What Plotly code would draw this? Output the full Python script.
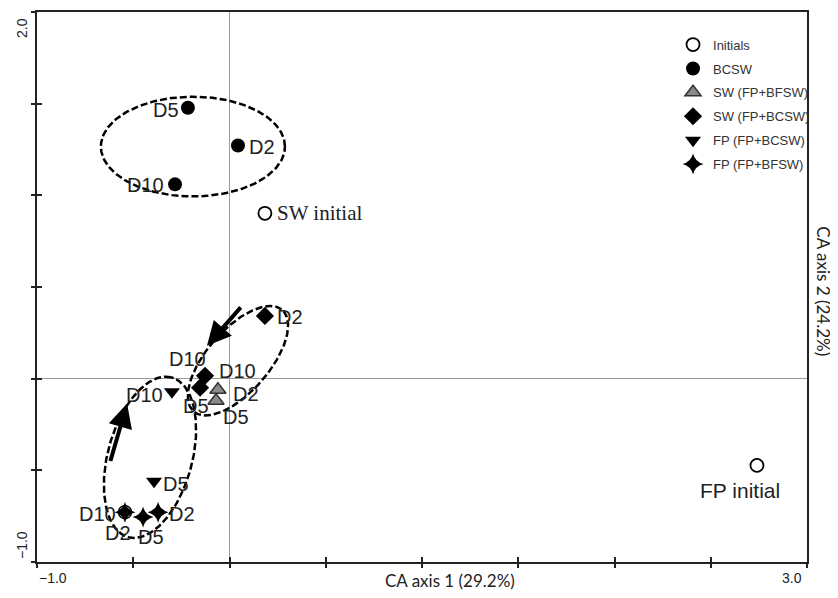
import numpy as np
import plotly.graph_objects as go

# ---------------- data ----------------
init_names = ["SW initial", "FP initial"]
init_x = [0.184, 2.740]
init_y = [0.902, -0.473]

bcsw_names = ["D5", "D2", "D10"]
bcsw_x = [-0.216, 0.044, -0.283]
bcsw_y = [1.478, 1.272, 1.060]

sw_bfsw_names = ["D2", "D5"]
sw_bfsw_x = [-0.060, -0.070]
sw_bfsw_y = [-0.060, -0.120]

sw_bcsw_names = ["D2", "D10", "D5"]
sw_bcsw_x = [0.184, -0.127, -0.153]
sw_bcsw_y = [0.342, 0.016, -0.049]

fp_bcsw_names = ["D10", "D5"]
fp_bcsw_x = [-0.299, -0.392]
fp_bcsw_y = [-0.071, -0.560]

fp_bfsw_names = ["D2", "D5", "D10"]
fp_bfsw_x = [-0.371, -0.449, -0.543]
fp_bfsw_y = [-0.728, -0.755, -0.728]

# overlapping marks drawn at D10 of the FP (FP+BFSW) group
overlap_x = [-0.543]
overlap_y = [-0.728]

# point labels (text, x, y)
label_text = ["D5", "D2", "D10",
              "D2", "D10", "D10", "D2", "D5", "D5",
              "D10", "D5",
              "D10", "D2", "D2", "D5"]
label_x = [-0.330, 0.169, -0.434,
           0.314, -0.216, 0.039, 0.086, -0.174, 0.034,
           -0.439, -0.278,
           -0.688, -0.247, -0.579, -0.408]
label_y = [1.467, 1.266, 1.054,
           0.337, 0.109, 0.043, -0.082, -0.147, -0.207,
           -0.087, -0.576,
           -0.739, -0.739, -0.842, -0.864]

# grouping ellipses: centre x, centre y, semi-axis a, semi-axis b, angle (deg)
ell_cx = [-0.19, 0.044, -0.413]
ell_cy = [1.266, 0.098, -0.429]
ell_a = [0.478, 0.36, 0.45]
ell_b = [0.272, 0.165, 0.22]
ell_ang = [0, 51, 76]

# trend arrows: tail -> tip
arrow_tail_x = [0.065, -0.621]
arrow_tail_y = [0.397, -0.457]
arrow_tip_x = [-0.117, -0.532]
arrow_tip_y = [0.179, -0.136]

x_range = [-1.0, 3.0]
y_range = [-1.0, 2.0]
x_title = "CA axis 1 (29.2%)"
y_title = "CA axis 2 (24.2%)"

# ---------------- figure ----------------
fig = go.Figure()

t = np.linspace(0, 2 * np.pi, 200)
for cx, cy, a, b, ang in zip(ell_cx, ell_cy, ell_a, ell_b, ell_ang):
    th = np.deg2rad(ang)
    ex = cx + a * np.cos(t) * np.cos(th) - b * np.sin(t) * np.sin(th)
    ey = cy + a * np.cos(t) * np.sin(th) + b * np.sin(t) * np.cos(th)
    fig.add_trace(go.Scatter(x=ex, y=ey, mode="lines", showlegend=False,
                             hoverinfo="skip",
                             line=dict(color="black", width=2.5, dash="7px,3px")))

fig.add_trace(go.Scatter(x=init_x, y=init_y, mode="markers", name="Initials",
                         legendgroup="g1",
                         marker=dict(symbol="circle-open", size=13, color="black",
                                     line=dict(width=1.8, color="black"))))
fig.add_trace(go.Scatter(x=bcsw_x, y=bcsw_y, mode="markers", name="BCSW",
                         legendgroup="g2",
                         marker=dict(symbol="circle", size=14, color="black")))
fig.add_trace(go.Scatter(x=sw_bfsw_x, y=sw_bfsw_y, mode="markers", name="SW (FP+BFSW)",
                         legendgroup="g3",
                         marker=dict(symbol="triangle-up", size=14, color="#8a8a8a",
                                     line=dict(width=1.5, color="#333333"))))
fig.add_trace(go.Scatter(x=sw_bcsw_x, y=sw_bcsw_y, mode="markers", name="SW (FP+BCSW)",
                         legendgroup="g4",
                         marker=dict(symbol="diamond", size=14, color="black")))
fig.add_trace(go.Scatter(x=fp_bcsw_x, y=fp_bcsw_y, mode="markers", name="FP (FP+BCSW)",
                         legendgroup="g5",
                         marker=dict(symbol="triangle-down", size=14, color="black")))
fig.add_trace(go.Scatter(x=fp_bfsw_x, y=fp_bfsw_y, mode="markers", name="FP (FP+BFSW)",
                         legendgroup="g6",
                         marker=dict(symbol="star-diamond", size=15, color="black")))
fig.add_trace(go.Scatter(x=overlap_x, y=overlap_y, mode="markers", showlegend=False,
                         marker=dict(symbol="circle-cross-open", size=13, color="black",
                                     line=dict(width=1.5, color="black"))))

# invisible axes for inside tick marks
fig.add_trace(go.Scatter(x=[None], y=[None], xaxis="x2", yaxis="y2",
                         showlegend=False, hoverinfo="skip"))

ann = []
for txt, lx, ly in zip(label_text, label_x, label_y):
    ann.append(dict(x=lx, y=ly, text=txt, showarrow=False, xref="x", yref="y",
                    font=dict(family="Liberation Sans, Arial", size=20, color="#222")))

ann.append(dict(x=init_x[0] + 0.05, y=init_y[0], text=init_names[0], showarrow=False,
                xanchor="left", font=dict(family="Liberation Serif, Times New Roman",
                                          size=21, color="#222")))
ann.append(dict(x=init_x[1] - 0.09, y=init_y[1] - 0.136, text=init_names[1],
                showarrow=False,
                font=dict(family="Liberation Sans, Arial", size=21, color="#222")))

for tx, ty, hx, hy in zip(arrow_tail_x, arrow_tail_y, arrow_tip_x, arrow_tip_y):
    ann.append(dict(x=hx, y=hy, ax=tx, ay=ty, xref="x", yref="y", axref="x", ayref="y",
                    showarrow=True, arrowhead=2, arrowwidth=4, arrowsize=1.2,
                    arrowcolor="black", text="", standoff=0))

# tick labels placed inward like the reference
tick_font = dict(family="Liberation Sans, Arial", size=14, color="#222")
ann.append(dict(x=x_range[0], y=0, xref="x", yref="paper", text="\u22121.0",
                xanchor="left", yanchor="top", yshift=-6, showarrow=False, font=tick_font))
ann.append(dict(x=x_range[1], y=0, xref="x", yref="paper", text="3.0",
                xanchor="right", yanchor="top", yshift=-6, xshift=-3, showarrow=False,
                font=tick_font))
ann.append(dict(x=0, y=y_range[1], xref="paper", yref="y", text="2.0", textangle=-90,
                xanchor="right", yanchor="top", xshift=-5, yshift=-4, showarrow=False,
                font=tick_font))
ann.append(dict(x=0, y=y_range[0], xref="paper", yref="y", text="\u22121.0", textangle=-90,
                xanchor="right", yanchor="bottom", xshift=-5, yshift=1, showarrow=False,
                font=tick_font))

ann.append(dict(x=1.145, y=0, xref="x", yref="paper", text=x_title, yanchor="top",
                yshift=-6, showarrow=False,
                font=dict(family="Lato, Open Sans", size=17, color="#222")))
ann.append(dict(x=1.0, y=0.493, xref="paper", yref="paper", text=y_title, textangle=90,
                xanchor="left", xshift=4, showarrow=False,
                font=dict(family="Lato, Open Sans", size=17, color="#222")))

axis_common = dict(showgrid=False, showline=True, linecolor="#222", linewidth=2,
                   mirror=True, ticks="outside", ticklen=4, tickwidth=1.5,
                   tickcolor="#222", showticklabels=False,
                   zeroline=True, zerolinecolor="#9a9a9a", zerolinewidth=1)

# page body adds an 8px offset; figure sized/margined to compensate
fig.update_layout(
    width=830, height=590,
    margin=dict(l=29, r=31, t=2, b=36),
    paper_bgcolor="white", plot_bgcolor="white",
    xaxis=dict(range=x_range, dtick=0.5, tick0=-1.0, **axis_common),
    yaxis=dict(range=y_range, dtick=0.5, tick0=-1.0, **axis_common),
    xaxis2=dict(range=x_range, dtick=0.5, tick0=-1.0, overlaying="x", anchor="y",
                side="bottom", showgrid=False, zeroline=False, showline=False,
                ticks="inside", ticklen=5, tickwidth=1.5, tickcolor="#222",
                showticklabels=False),
    yaxis2=dict(range=y_range, dtick=0.5, tick0=-1.0, overlaying="y", anchor="x",
                side="left", showgrid=False, zeroline=False, showline=False,
                ticks="inside", ticklen=5, tickwidth=1.5, tickcolor="#222",
                showticklabels=False),
    showlegend=True,
    legend=dict(x=0.826, y=0.968, xanchor="left", yanchor="top",
                bgcolor="rgba(255,255,255,0)", borderwidth=0,
                font=dict(family="Liberation Sans, Arial", size=13, color="#333"),
                tracegroupgap=4),
    annotations=ann,
)

fig.write_html("out.html")
